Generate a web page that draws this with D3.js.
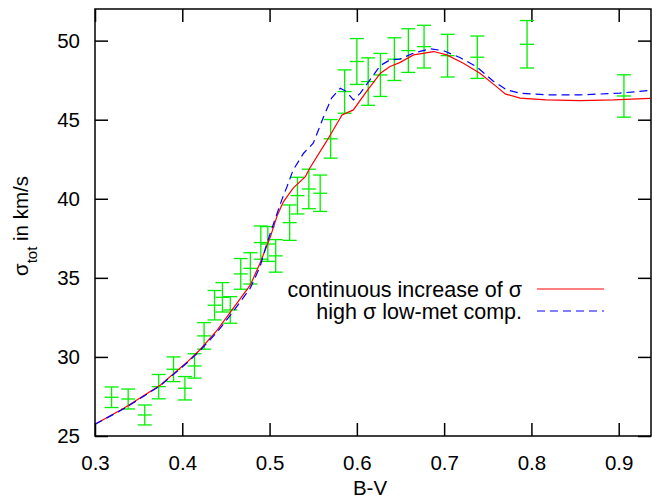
<!DOCTYPE html>
<html>
<head>
<meta charset="utf-8">
<script src="https://cdn.jsdelivr.net/npm/d3@7"></script>
<style>
  body { margin: 0; background: #fff; }
  svg { display: block; font-family: "Liberation Sans", Arial, sans-serif; }
</style>
</head>
<body>
<svg id="chart-area"></svg>
<script>
// observed dispersion with error bars
const obsBV = [0.319, 0.338, 0.357, 0.373, 0.390, 0.403, 0.414, 0.425, 0.437, 0.446, 0.455,
  0.467, 0.478, 0.490, 0.498, 0.507, 0.523, 0.532, 0.545, 0.558, 0.570, 0.586, 0.600,
  0.613, 0.627, 0.643, 0.659, 0.677, 0.704, 0.738, 0.795, 0.906]
const obsSigma = [27.45, 27.34, 26.33, 28.12, 29.22, 28.02, 29.43, 31.33, 33.27, 33.77, 32.97,
  35.25, 35.60, 37.23, 37.14, 36.39, 38.49, 40.20, 40.62, 40.35, 43.79, 46.78, 48.68,
  47.41, 47.83, 48.83, 49.37, 49.62, 49.05, 48.95, 49.77, 46.50]
const obsErr = [0.65, 0.63, 0.63, 0.77, 0.78, 0.74, 0.77, 0.84, 0.93, 0.93, 0.84,
  0.97, 0.99, 1.05, 1.10, 1.03, 1.12, 1.16, 1.25, 1.15, 1.22, 1.37, 1.45,
  1.50, 1.36, 1.35, 1.38, 1.35, 1.35, 1.34, 1.50, 1.34]

// model: continuous increase of sigma
const contBV = [0.300, 0.333, 0.375, 0.406, 0.420, 0.440, 0.457, 0.478, 0.489, 0.501, 0.509,
  0.516, 0.527, 0.541, 0.546, 0.565, 0.583, 0.596, 0.611, 0.627, 0.638, 0.649, 0.665,
  0.688, 0.703, 0.722, 0.741, 0.760, 0.770, 0.787, 0.817, 0.856, 0.894, 0.936]
const contSigma = [25.74, 26.75, 28.23, 29.70, 30.44, 31.70, 32.97, 34.55, 35.92, 37.61, 38.98,
  39.82, 40.67, 41.40, 41.93, 43.61, 45.30, 45.62, 46.78, 47.94, 48.36, 48.61, 49.10,
  49.31, 49.10, 48.57, 47.94, 47.09, 46.63, 46.36, 46.25, 46.21, 46.25, 46.35]

// model: high sigma low-met component
const highBV = [0.300, 0.333, 0.375, 0.406, 0.420, 0.440, 0.457, 0.478, 0.489, 0.497, 0.506,
  0.514, 0.520, 0.527, 0.539, 0.550, 0.562, 0.571, 0.581, 0.588, 0.596, 0.604, 0.615,
  0.627, 0.638, 0.649, 0.665, 0.684, 0.699, 0.718, 0.737, 0.756, 0.772, 0.787, 0.817,
  0.856, 0.901, 0.936]
const highSigma = [25.74, 26.72, 28.19, 29.65, 30.38, 31.58, 32.78, 34.36, 35.69, 37.19, 38.66,
  39.93, 40.77, 41.82, 42.88, 43.51, 45.20, 46.36, 46.99, 46.78, 46.25, 46.68, 47.52,
  48.43, 48.78, 48.83, 49.21, 49.48, 49.37, 48.93, 48.36, 47.45, 46.88, 46.68, 46.57,
  46.57, 46.68, 46.85]

const bvTicks = [0.3, 0.4, 0.5, 0.6, 0.7, 0.8, 0.9]
const sigmaTicks = [25, 30, 35, 40, 45, 50]

const legendLabels = ["continuous increase of σ", "high σ low-met comp."]

function drawChart() {
    const width = 652
    const height = 500
    const left = 95, right = 651, top = 9, bottom = 436
    const tick = 13

    const svg = d3.select("#chart-area")
        .attr("width", width)
        .attr("height", height)

    const x = d3.scaleLinear().domain([0.3, 0.937]).range([left, right])
    const y = d3.scaleLinear().domain([25, 52]).range([bottom, top])

    // axes, gnuplot style: ticks inside and mirrored
    svg.append("g")
        .attr("transform", `translate(0,${bottom})`)
        .call(d3.axisBottom(x).tickValues(bvTicks).tickSize(-tick).tickPadding(19)
            .tickFormat(d3.format(".1f")))
    svg.append("g")
        .attr("transform", `translate(0,${top})`)
        .call(d3.axisTop(x).tickValues(bvTicks).tickSize(-tick).tickFormat(""))
    svg.append("g")
        .attr("transform", `translate(${left},0)`)
        .call(d3.axisLeft(y).tickValues(sigmaTicks).tickSize(-tick).tickPadding(15))
    svg.append("g")
        .attr("transform", `translate(${right},0)`)
        .call(d3.axisRight(y).tickValues(sigmaTicks).tickSize(-tick).tickFormat(""))

    svg.selectAll(".domain").remove()
    svg.selectAll(".tick line").attr("stroke", "#000").attr("stroke-width", 1.5)
    svg.selectAll(".tick text")
        .attr("fill", "#000")
        .style("font-family", "'Liberation Sans', Arial, sans-serif")
        .style("font-size", "20.5px")

    // error bars
    const capW = 7
    const bars = svg.append("g")
        .attr("stroke", "#00f000")
        .attr("stroke-width", 1.3)
        .selectAll("g")
        .data(obsBV.map((d, i) => ({ bv: d, s: obsSigma[i], e: obsErr[i] })))
        .join("g")
    bars.append("line")
        .attr("x1", d => x(d.bv)).attr("x2", d => x(d.bv))
        .attr("y1", d => y(d.s - d.e)).attr("y2", d => y(d.s + d.e))
    for (const k of [-1, 0, 1]) {
        bars.append("line")
            .attr("x1", d => x(d.bv) - capW).attr("x2", d => x(d.bv) + capW)
            .attr("y1", d => y(d.s + k * d.e)).attr("y2", d => y(d.s + k * d.e))
    }

    const line = d3.line().x(d => x(d[0])).y(d => y(d[1]))

    svg.append("path")
        .datum(contBV.map((d, i) => [d, contSigma[i]]))
        .attr("d", line)
        .attr("fill", "none")
        .attr("stroke", "#ff0000")
        .attr("stroke-width", 1.2)

    svg.append("path")
        .datum(highBV.map((d, i) => [d, highSigma[i]]))
        .attr("d", line)
        .attr("fill", "none")
        .attr("stroke", "#0000ff")
        .attr("stroke-width", 1.2)
        .attr("stroke-dasharray", "8,5")

    // frame
    svg.append("rect")
        .attr("x", left).attr("y", top)
        .attr("width", right - left).attr("height", bottom - top)
        .attr("fill", "none")
        .attr("stroke", "#000")
        .attr("stroke-width", 1.5)

    // legend
    const legend = svg.append("g")
    const styles = [{ c: "#ff0000", dash: null }, { c: "#0000ff", dash: "8,5" }]
    legendLabels.forEach((lab, i) => {
        const ly = 289 + i * 22
        legend.append("text")
            .attr("x", 522).attr("y", ly)
            .attr("dy", "0.35em")
            .attr("text-anchor", "end")
            .style("font-size", "21.5px")
            .text(lab)
        legend.append("line")
            .attr("x1", 537).attr("x2", 604)
            .attr("y1", ly).attr("y2", ly)
            .attr("stroke", styles[i].c)
            .attr("stroke-width", 1.2)
            .attr("stroke-dasharray", styles[i].dash)
    })

    // axis titles
    svg.append("text")
        .attr("x", (left + right) / 2 - 3).attr("y", 495)
        .attr("text-anchor", "middle")
        .style("font-size", "20.5px")
        .text("B-V")

    const yTitle = svg.append("text")
        .attr("transform", "translate(28,226) rotate(-90)")
        .attr("text-anchor", "middle")
        .style("font-size", "20.5px")
    yTitle.append("tspan").text("σ")
    yTitle.append("tspan").attr("baseline-shift", "sub").style("font-size", "15px").text("tot")
    yTitle.append("tspan").text(" in km/s")
}

drawChart()
</script>
</body>
</html>
